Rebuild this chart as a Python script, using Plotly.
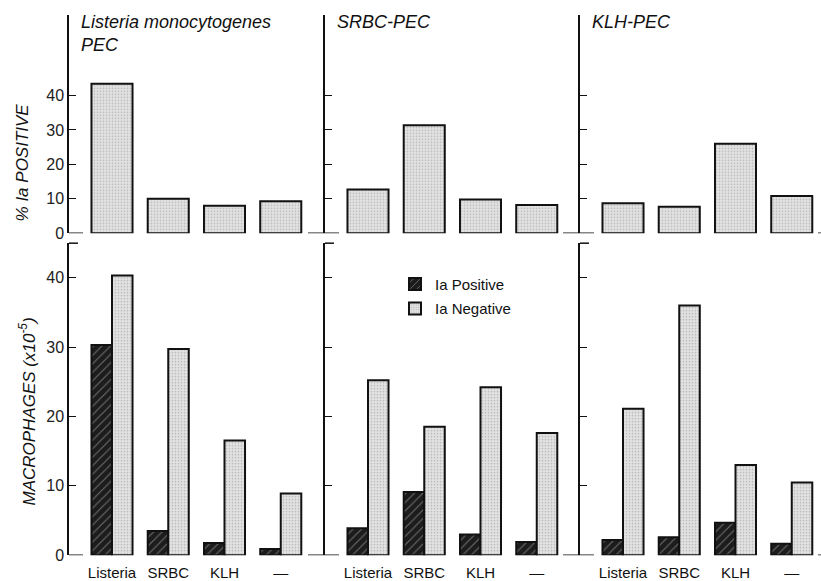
import plotly.graph_objects as go

categories = ["Listeria", "SRBC", "KLH", "—"]
panel_titles = ["Listeria monocytogenes<br>PEC", "SRBC-PEC", "KLH-PEC"]

pct_ia_positive = [
    [43.4, 10.0, 8.0, 9.3],
    [12.7, 31.4, 9.8, 8.2],
    [8.7, 7.7, 26.0, 10.8],
]
ia_positive = [
    [30.3, 3.5, 1.75, 0.9],
    [3.9, 9.1, 3.0, 1.9],
    [2.2, 2.6, 4.7, 1.65],
]
ia_negative = [
    [40.3, 29.7, 16.55, 8.9],
    [25.2, 18.5, 24.2, 17.6],
    [21.1, 36.0, 13.0, 10.5],
]
y_ticks = [0, 10, 20, 30, 40]

W, H = 821, 581
axis_px = [69, 325, 580]
right_px = [325, 580, 821]
unit_px = 56.25
off_px = 43.0
top_px = (15, 237)
bot_px = (247, 564)

FONT = "Liberation Sans"
neg_marker = dict(color="#d4d4d4",
                  line=dict(color="#111", width=2),
                  pattern=dict(shape=".", fgcolor="#8a8a8a", bgcolor="#e2e2e2",
                               size=3, solidity=0.25, fillmode="overlay"))
pos_marker = dict(color="#1c1c1c",
                  line=dict(color="#111", width=2),
                  pattern=dict(shape="/", fgcolor="#bdbdbd", size=6,
                               solidity=0.18, fillmode="overlay"))

fig = go.Figure()
xs = list(range(len(categories)))

layout = {}
shapes = []
annotations = []
for p in range(3):
    xt = "x" if p == 0 else f"x{p+1}"
    yt = "y" if p == 0 else f"y{p+1}"
    xb = f"x{p+4}"
    yb = f"y{p+4}"
    # top panel
    fig.add_trace(go.Bar(x=xs, y=pct_ia_positive[p], width=0.73,
                         marker=neg_marker, xaxis=xt, yaxis=yt,
                         showlegend=False))
    # bottom panel
    fig.add_trace(go.Bar(x=xs, y=ia_positive[p], width=0.365, offset=-0.365,
                         marker=pos_marker, xaxis=xb, yaxis=yb,
                         name="Ia Positive", showlegend=(p == 1),
                         legendgroup="pos"))
    fig.add_trace(go.Bar(x=xs, y=ia_negative[p], width=0.365, offset=0,
                         marker=neg_marker, xaxis=xb, yaxis=yb,
                         name="Ia Negative", showlegend=(p == 1),
                         legendgroup="neg"))
    wpx = right_px[p] - axis_px[p]
    xr = [-off_px / unit_px, (wpx - off_px) / unit_px]
    xdom = [axis_px[p] / W, right_px[p] / W]
    for xname, yname, ypx, yrng, show_cat in (
        (xt, yt, top_px, [0, (top_px[1] - top_px[0]) / 3.5], False),
        (xb, yb, bot_px, [0, (bot_px[1] - bot_px[0]) / 7.05], True),
    ):
        xkey = "xaxis" if xname == "x" else "xaxis" + xname[1:]
        ykey = "yaxis" if yname == "y" else "yaxis" + yname[1:]
        layout[xkey] = dict(domain=xdom, range=xr, anchor=yname,
                            showgrid=False, zeroline=False, showline=False,
                            ticks="", tickvals=xs, ticktext=categories,
                            showticklabels=show_cat, ticklabelstandoff=7,
                            tickfont=dict(family=FONT, size=15, color="#111"),
                            fixedrange=True)
        layout[ykey] = dict(domain=[1 - ypx[1] / H, 1 - ypx[0] / H],
                            range=yrng, anchor=xname, showgrid=False,
                            zeroline=False, showline=True, linecolor="#111",
                            linewidth=1.5, tickvals=y_ticks,
                            ticks="inside", ticklen=7, tickcolor="#111",
                            tickwidth=1.2,
                            showticklabels=(p == 0),
                            tickfont=dict(family=FONT, size=16, color="#222"),
                            fixedrange=True)
        xd = xname + " domain"
        yd = yname + " domain"
        # short baseline segments near axes
        shapes.append(dict(type="line", xref=xd, yref=yname, x0=0,
                           x1=14 / wpx, y0=0, y1=0,
                           line=dict(color="#111", width=1.5)))
        shapes.append(dict(type="line", xref=xd, yref=yname,
                           x0=1 - (17 if p < 2 else 3) / wpx, x1=1,
                           y0=0, y1=0, line=dict(color="#111", width=1.5)))
        if show_cat:
            shapes.append(dict(type="line", xref=xd, yref=yd, x0=0,
                               x1=9 / wpx, y0=1, y1=1,
                               line=dict(color="#111", width=1.5)))
    annotations.append(dict(text="<i>" + panel_titles[p] + "</i>",
                            xref="paper", yref="paper",
                            x=(axis_px[p] + 10) / W, y=1 - 10 / H,
                            xanchor="left", yanchor="top", align="left",
                            showarrow=False,
                            font=dict(family=FONT, size=18, color="#111")))

annotations.append(dict(text="<i>% Ia POSITIVE</i>", xref="paper",
                        yref="paper", x=22 / W, y=1 - 165 / H,
                        xanchor="center", yanchor="middle",
                        textangle=-90, showarrow=False,
                        font=dict(family=FONT, size=17, color="#111")))
annotations.append(dict(text="<i>MACROPHAGES (x10<sup>-5</sup>)</i>",
                        xref="paper", yref="paper", x=27 / W, y=1 - 418 / H,
                        xanchor="center", yanchor="middle",
                        textangle=-90, showarrow=False,
                        font=dict(family=FONT, size=17, color="#111")))

fig.update_layout(
    width=W, height=H,
    margin=dict(l=0, r=0, t=0, b=0),
    paper_bgcolor="white", plot_bgcolor="white",
    barmode="overlay",
    showlegend=True,
    legend=dict(x=395 / W, y=1 - 272 / H, xanchor="left", yanchor="top",
                bgcolor="rgba(0,0,0,0)",
                font=dict(family=FONT, size=15, color="#111"),
                tracegroupgap=2, itemwidth=30),
    shapes=shapes,
    annotations=annotations,
    **layout,
)

fig.write_html("out.html")
